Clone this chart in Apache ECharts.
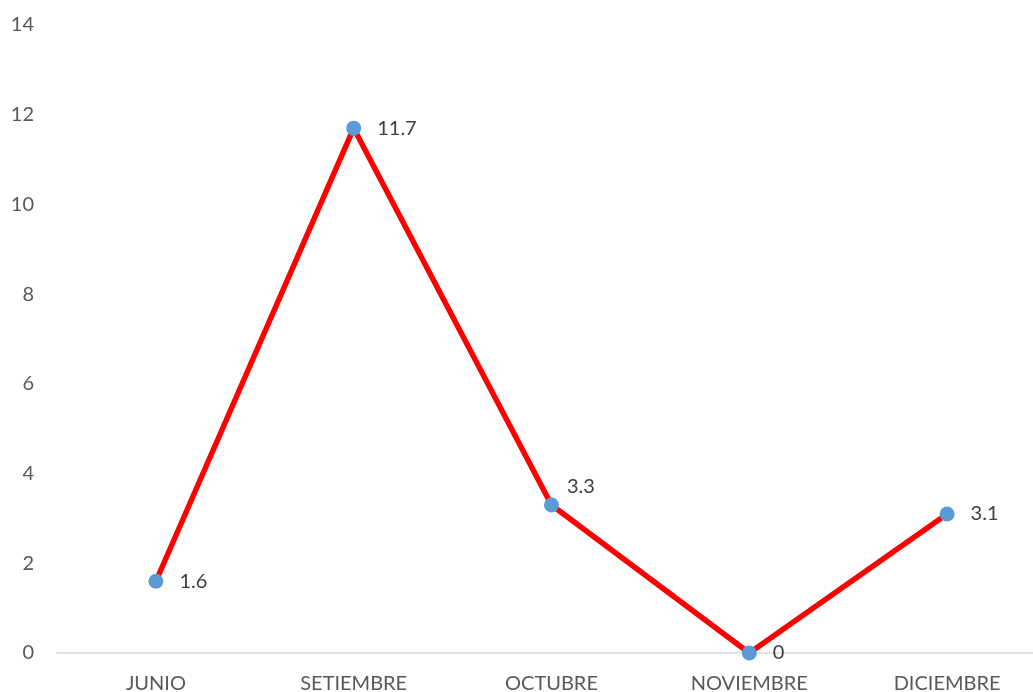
<!DOCTYPE html>
<html>
<head>
<meta charset="utf-8">
<script src="https://cdn.jsdelivr.net/npm/echarts@6/dist/echarts.min.js"></script>
<style>
html,body{margin:0;padding:0;background:#fff;}
#chart{width:1033px;height:692px;}
</style>
</head>
<body>
<div id="chart"></div>
<script>
const categories = ['JUNIO', 'SETIEMBRE', 'OCTUBRE', 'NOVIEMBRE', 'DICIEMBRE'];
const values = [1.6, 11.7, 3.3, 0, 3.1];

const font = 'Lato, "Open Sans", sans-serif';
const chart = echarts.init(document.getElementById('chart'));
chart.setOption({
  animation: false,
  grid: { left: 57, width: 989, top: 25, bottom: 39, containLabel: false, outerBoundsMode: 'none' },
  xAxis: {
    type: 'category',
    data: categories,
    boundaryGap: true,
    axisLine: { lineStyle: { color: '#d9d9d9', width: 1.5 } },
    axisTick: { show: false },
    axisLabel: { color: '#595959', fontSize: 20, fontFamily: font, margin: 21 }
  },
  yAxis: {
    type: 'value',
    min: 0, max: 14, interval: 2,
    axisLine: { show: false },
    axisTick: { show: false },
    splitLine: { show: false },
    axisLabel: { color: '#595959', fontSize: 20, fontFamily: font, margin: 23 }
  },
  series: [{
    type: 'line',
    data: values.map((v, i) => i === 2 ? { value: v, label: { offset: [-8, -18] } } : v),
    lineStyle: { color: '#ff0000', width: 5.5 },
    itemStyle: { color: '#5b9bd5' },
    symbol: 'circle',
    symbolSize: 15,
    label: {
      show: true,
      position: 'right',
      distance: 16,
      color: '#404040',
      fontSize: 20,
      fontFamily: font
    }
  }]
});
</script>
</body>
</html>
